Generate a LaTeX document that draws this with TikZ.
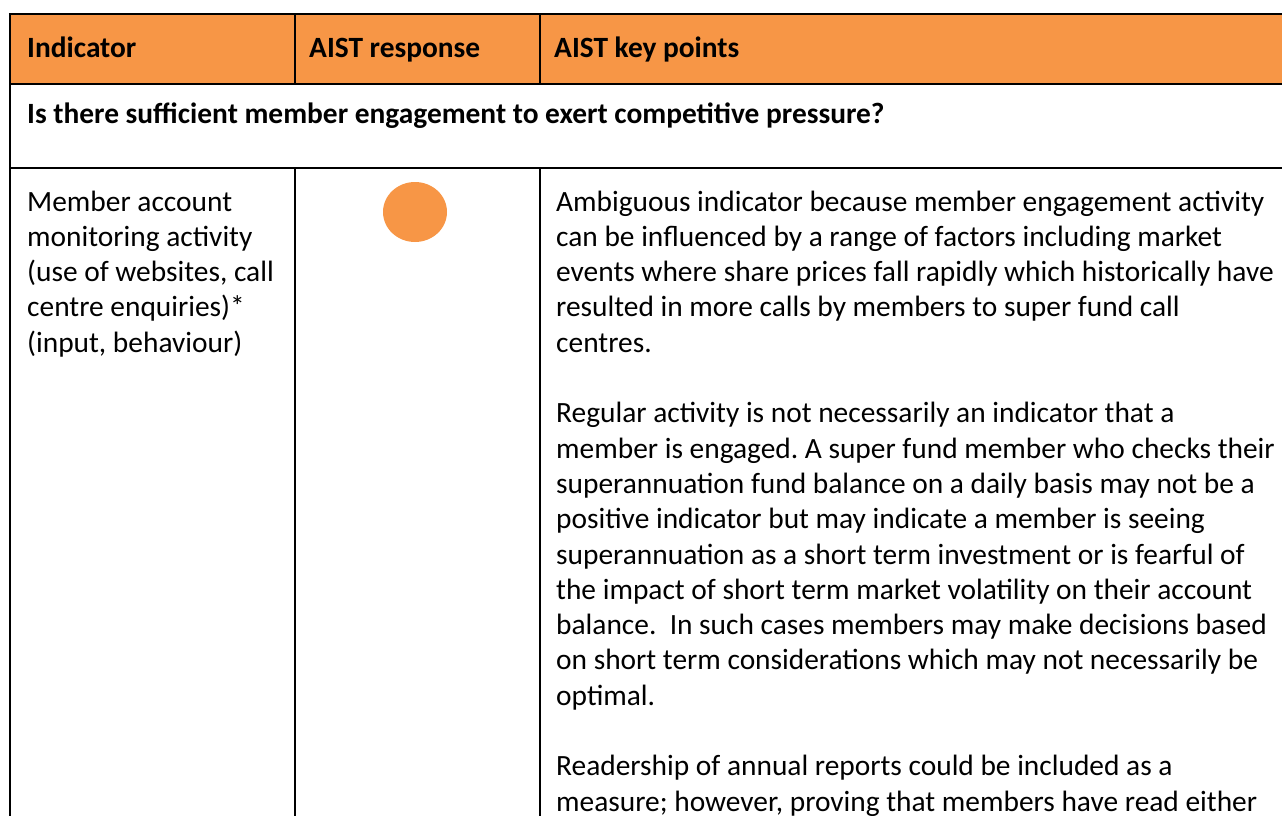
\documentclass[tikz,border=0pt]{standalone}
\usepackage{fontspec}
\setmainfont{Carlito}
\usetikzlibrary{shapes.geometric}
\definecolor{hdr}{HTML}{F79646}
\frenchspacing
\begin{document}
\begin{tikzpicture}[x=1pt,y=-1pt,
  txt/.style={anchor=base west,inner sep=0pt,font=\fontsize{29.4}{35.3}\selectfont},
  btxt/.style={txt,font=\fontsize{29.4}{35.3}\selectfont\bfseries},
  rule/.style={line width=2.5pt,black}]
\useasboundingbox (0,0) rectangle (1282,816);
% header fill
\fill[hdr] (10,14) rectangle (1282,84);
% rules
\draw[rule] (8.75,14) -- (1282,14);
\draw[rule] (10,84) -- (1282,84);
\draw[rule] (10,168) -- (1282,168);
\draw[rule] (10,14) -- (10,816);
\draw[rule] (295,14) -- (295,84);
\draw[rule] (540,14) -- (540,84);
\draw[rule] (295,168) -- (295,816);
\draw[rule] (540,168) -- (540,816);
% header
\node[btxt] (h1) at (27,58) {Indicator};
\node[btxt] (h2) at (309,58) {AIST response};
\node[btxt] (h3) at (554,58) {AIST key points};
\node[btxt] (q) at (27,123) {Is there sufficient member engagement to exert competitive pressure?};
% left column
\node[txt] (a1) at (27,211) {Member account};
\node[txt] (a2) at (27,246.3) {monitoring activity};
\node[txt] (a3) at (27,281.6) {(use of websites, call};
\node[txt] (a4) at (27,316.9) {centre enquiries)*};
\node[txt] (a5) at (27,352.2) {(input, behaviour)};
% response
\node[ellipse,fill=hdr,minimum width=64pt,minimum height=60pt,inner sep=0pt] (dot) at (415,212) {};
% key points
\node[txt] (k0) at (556,211) {Ambiguous indicator because member engagement activity};
\node[txt] (k1) at (556,246.3) {can be influenced by a range of factors including market};
\node[txt] (k2) at (556,281.6) {events where share prices fall rapidly which historically have};
\node[txt] (k3) at (556,316.9) {resulted in more calls by members to super fund call};
\node[txt] (k4) at (556,352.2) {centres.};
\node[txt] (k6) at (556,422.8) {Regular activity is not necessarily an indicator that a};
\node[txt] (k7) at (556,458.1) {member is engaged. A super fund member who checks their};
\node[txt] (k8) at (556,493.4) {superannuation fund balance on a daily basis may not be a};
\node[txt] (k9) at (556,528.7) {positive indicator but may indicate a member is seeing};
\node[txt] (k10) at (556,564.0) {superannuation as a short term investment or is fearful of};
\node[txt] (k11) at (556,599.3) {the impact of short term market volatility on their account};
\node[txt] (k12) at (556,634.6) {balance.\ \ In such cases members may make decisions based};
\node[txt] (k13) at (556,669.9) {on short term considerations which may not necessarily be};
\node[txt] (k14) at (556,705.2) {optimal.};
\node[txt] (k16) at (556,775.8) {Readership of annual reports could be included as a};
\node[txt] (k17) at (556,811.1) {measure; however, proving that members have read either};
\end{tikzpicture}
\end{document}
